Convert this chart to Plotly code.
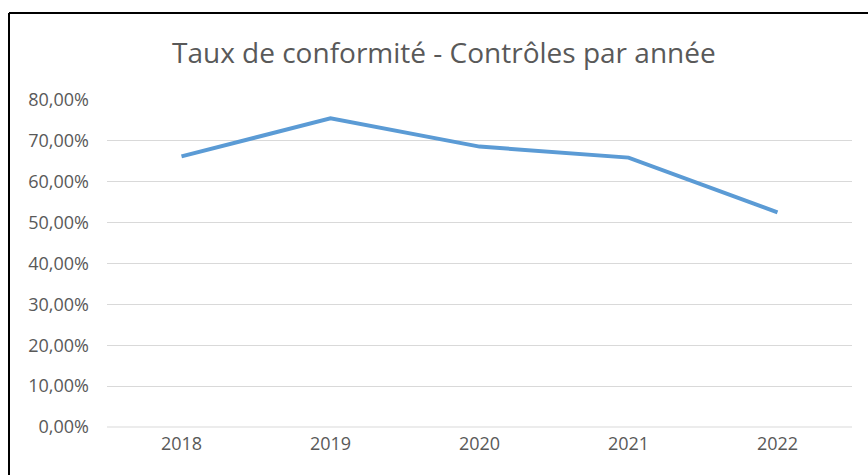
import plotly.graph_objects as go

years = ["2018", "2019", "2020", "2021", "2022"]
taux = [0.662, 0.755, 0.686, 0.659, 0.525]
y_ticks = [0, 0.1, 0.2, 0.3, 0.4, 0.5, 0.6, 0.7, 0.8]
y_labels = ["0,00%", "10,00%", "20,00%", "30,00%", "40,00%", "50,00%", "60,00%", "70,00%", "80,00%"]
title = "Taux de conformité - Contrôles par année"

W, H = 868, 475
L, R, T, B = 107, 16, 100, 48
pw, ph = W - L - R, H - T - B


def px(xp):
    return (xp - L) / pw


def py(yp):
    return (H - B - yp) / ph


fig = go.Figure()
fig.add_trace(go.Scatter(x=years, y=taux, mode="lines",
                         line=dict(color="#5B9BD5", width=4), hoverinfo="skip"))

font = "Segoe UI, Open Sans, Noto Sans, sans-serif"
fig.update_layout(
    width=W, height=H,
    margin=dict(l=L, r=R, t=T, b=B),
    paper_bgcolor="white", plot_bgcolor="white",
    showlegend=False,
    font=dict(family=font, color="#595959", size=18),
    xaxis=dict(type="category", showgrid=False, zeroline=False, showline=False,
               ticks="", tickfont=dict(size=18, color="#595959"),
               ticklabelstandoff=4, range=[-0.5, 4.5]),
    yaxis=dict(range=[0, 0.8], tickvals=y_ticks, ticktext=y_labels,
               showgrid=True, gridcolor="#D9D9D9", gridwidth=1, zeroline=False,
               showline=False, ticks="", tickfont=dict(size=18, color="#595959"),
               ticklabelstandoff=17),
    annotations=[dict(text=title, xref="paper", yref="paper",
                      x=px(443.5), y=py(52),
                      xanchor="center", yanchor="middle", showarrow=False,
                      font=dict(size=28, color="#595959", family=font))],
    shapes=[
        dict(type="line", xref="paper", yref="paper",
             x0=px(9), x1=px(W + 10), y0=py(13), y1=py(13),
             line=dict(color="black", width=2), layer="above"),
        dict(type="line", xref="paper", yref="paper",
             x0=px(9), x1=px(9), y0=py(13), y1=py(H + 10),
             line=dict(color="black", width=2), layer="above"),
        dict(type="line", xref="paper", yref="paper", x0=0, x1=1, y0=0, y1=0,
             line=dict(color="#D9D9D9", width=1), layer="below"),
    ],
)

fig.write_html(
    "out.html",
    config={"displayModeBar": False},
    post_script="document.body.style.margin='0';document.body.style.overflow='hidden';",
)
